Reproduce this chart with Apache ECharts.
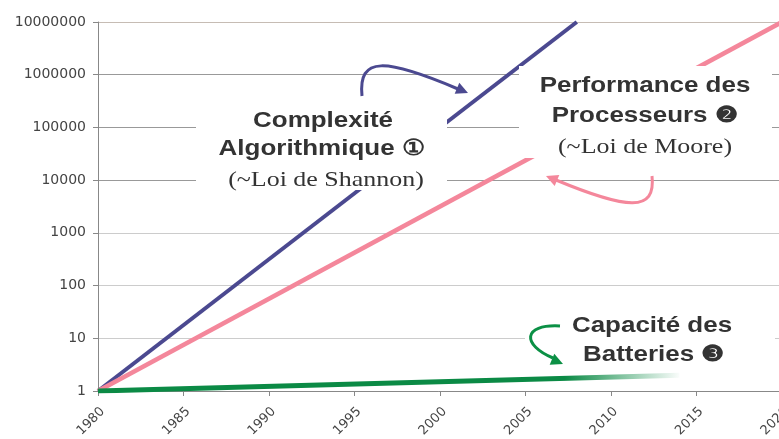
<!DOCTYPE html>
<html>
<head>
<meta charset="utf-8">
<script src="https://cdn.jsdelivr.net/npm/echarts@6/dist/echarts.min.js"></script>
<style>
  html, body { margin: 0; padding: 0; background: #fff; }
  #chart { width: 779px; height: 439px; }
</style>
</head>
<body>
<div id="chart"></div>
<script>
// données (année, valeur relative)
const years = [1980, 1985, 1990, 1995, 2000, 2005, 2010, 2015, 2020];
const yTickLabels = ['1', '10', '100', '1000', '10000', '100000', '1000000', '10000000'];
const complexite = [[1980, 1], [2008, 10000000]];
const processeurs = [[1980, 1], [2020, 10000000]];
const batteries = [[1980, 1], [2014, 2]];

const chart = echarts.init(document.getElementById('chart'));

const sx = 1.18; // le texte de l'image est étiré horizontalement
function label(x, y, text, font) {
  return {
    type: 'text', x: x, y: y, scaleX: sx, z: 110,
    style: { text: text, font: font, fill: '#333', textAlign: 'center', textVerticalAlign: 'middle' }
  };
}
function box(x, y, w, h) {
  return { type: 'rect', z: 105, shape: { x: x, y: y, width: w, height: h }, style: { fill: '#fff' } };
}
function arrow(c, p, tip, b1, b2, color) {
  return [
    { type: 'bezierCurve', z: 120, shape: { x1: p[0], y1: p[1], cpx1: c[0], cpy1: c[1], cpx2: c[2], cpy2: c[3], x2: c[4], y2: c[5] },
      style: { stroke: color, lineWidth: 3, fill: null } },
    { type: 'polygon', z: 120, shape: { points: [tip, b1, b2] }, style: { fill: color } }
  ];
}

const bold = 'bold 22px "Liberation Sans", Arial, sans-serif';
const serif = '22px "Liberation Serif", "Times New Roman", serif';

const option = {
  backgroundColor: '#fff',
  animation: false,
  grid: { left: 98, right: -3, top: 22, bottom: 48, outerBoundsMode: 'none', containLabel: false },
  xAxis: {
    type: 'value', min: 1980, max: 2020, interval: 5,
    axisLine: { lineStyle: { color: '#888' } },
    axisTick: { show: true, length: 5, lineStyle: { color: '#888' } },
    splitLine: { show: false },
    axisLabel: {
      rotate: 45, margin: 14, verticalAlign: 'top', color: '#444', fontSize: 13, fontFamily: 'DejaVu Sans',
      formatter: v => years.indexOf(v) >= 0 ? String(v) : ''
    }
  },
  yAxis: {
    type: 'log', logBase: 10, min: 1, max: 10000000,
    axisLine: { show: true, lineStyle: { color: '#888' } },
    axisTick: { show: true, length: 5, lineStyle: { color: '#888' } },
    splitLine: { show: true, lineStyle: { color: ['#ccc', '#ccc', '#ccc', '#ccc', '#999', '#999', '#999', '#c6bcb4'] } },
    axisLabel: {
      margin: 12, color: '#444', fontSize: 14, fontFamily: 'DejaVu Sans',
      formatter: v => yTickLabels[Math.round(Math.log10(v))]
    }
  },
  series: [
    { name: 'Complexité Algorithmique', type: 'line', data: complexite, symbol: 'none',
      lineStyle: { color: '#4b4990', width: 4 } },
    { name: 'Performance des Processeurs', type: 'line', data: processeurs, symbol: 'none',
      lineStyle: { color: '#f4879b', width: 4.5 } },
    { name: 'Capacité des Batteries', type: 'line', data: batteries, symbol: 'none',
      lineStyle: {
        width: 5,
        color: new echarts.graphic.LinearGradient(0, 0, 1, 0, [
          { offset: 0, color: '#0b8a45' },
          { offset: 0.8, color: '#0b8a45' },
          { offset: 1, color: 'rgba(11,138,69,0)' }
        ])
      } }
  ],
  graphic: [
    box(196, 100, 251, 90),
    box(519, 66, 253, 92),
    box(525, 312, 250, 56),
    label(323, 121, 'Complexité', bold),
    label(322, 149, 'Algorithmique ①', bold),
    label(326, 180, '(~Loi de Shannon)', serif),
    label(645, 86, 'Performance des', bold),
    label(645, 116, 'Processeurs ❷', bold),
    label(645, 147, '(~Loi de Moore)', serif),
    label(652, 326, 'Capacité des', bold),
    label(654, 355, 'Batteries ❸', bold)
  ].concat(
    arrow([358, 56, 385, 58, 458, 89], [362, 96], [468, 93], [454.7, 93.8], [459.3, 82.8], '#4b4990'),
    arrow([656, 212, 628, 210, 556, 180], [652, 176], [546, 176], [559.3, 175.1], [554.7, 186.1], '#f4879b'),
    arrow([522, 324, 522, 345, 553, 358], [560, 326], [563, 364], [549.7, 364.8], [554.3, 353.8], '#0b9045')
  )
};

chart.setOption(option);
</script>
</body>
</html>
